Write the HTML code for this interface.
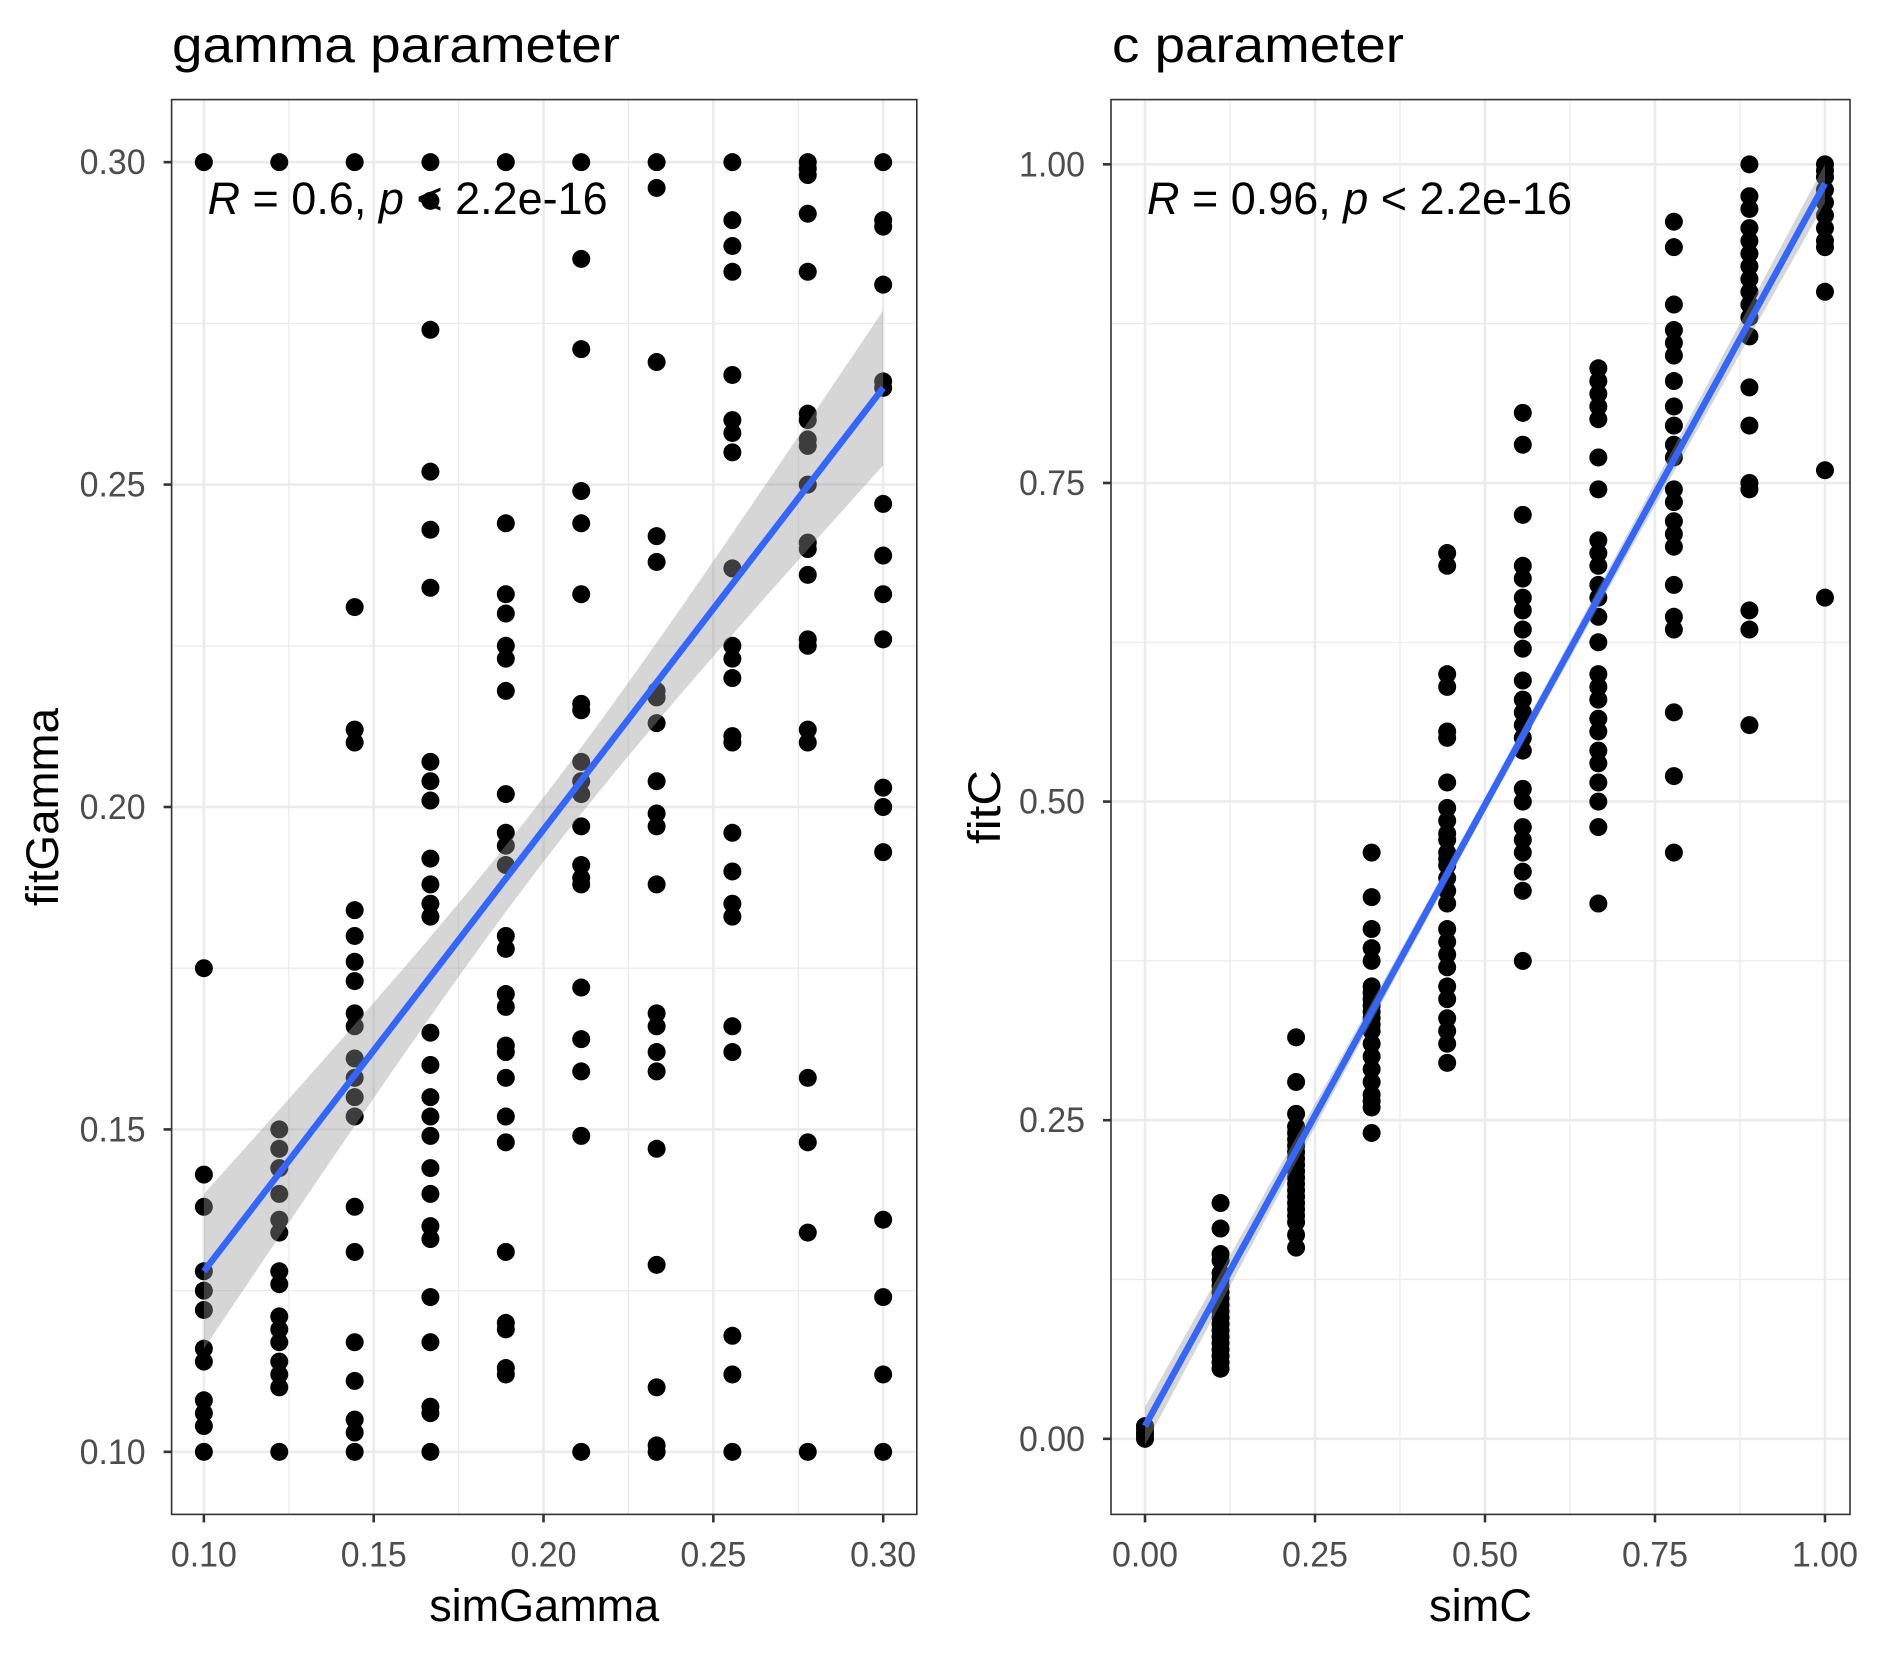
<!DOCTYPE html>
<html><head><meta charset="utf-8"><style>
html,body{margin:0;padding:0;background:#fff}
svg{display:block;font-family:"Liberation Sans",Arial,sans-serif}
</style></head><body>
<svg id="chart" width="1881" height="1653" viewBox="0 0 1881 1653" xmlns="http://www.w3.org/2000/svg">
<text x="172" y="62" font-size="50" textLength="448" lengthAdjust="spacingAndGlyphs" fill="#000">gamma parameter</text>
<text x="1112" y="62" font-size="50" textLength="292" lengthAdjust="spacingAndGlyphs" fill="#000">c parameter</text>
<g id="pg"></g>
<g id="pc"></g>
</svg>
<script>
const gammaCols=[0.1,0.1222,0.1444,0.1667,0.1889,0.2111,0.2333,0.2556,0.2778,0.3];
const gammaFit=[
[0.30,0.175,0.143,0.138,0.128,0.125,0.122,0.116,0.114,0.108,0.106,0.104,0.10],
[0.30,0.150,0.147,0.144,0.140,0.136,0.134,0.128,0.126,0.121,0.119,0.117,0.114,0.112,0.110,0.100],
[0.30,0.231,0.212,0.210,0.184,0.180,0.176,0.173,0.168,0.166,0.161,0.158,0.155,0.152,0.138,0.131,0.117,0.111,0.105,0.103,0.100],
[0.30,0.294,0.274,0.252,0.243,0.234,0.207,0.204,0.201,0.192,0.188,0.185,0.183,0.165,0.160,0.155,0.152,0.149,0.144,0.140,0.135,0.133,0.124,0.117,0.107,0.106,0.100],
[0.30,0.244,0.233,0.230,0.225,0.223,0.218,0.202,0.196,0.194,0.191,0.180,0.178,0.171,0.169,0.163,0.162,0.158,0.152,0.148,0.131,0.120,0.119,0.113,0.112],
[0.30,0.285,0.271,0.249,0.244,0.233,0.216,0.215,0.207,0.204,0.202,0.197,0.191,0.189,0.188,0.172,0.164,0.159,0.149,0.100],
[0.30,0.296,0.269,0.242,0.238,0.218,0.217,0.213,0.204,0.199,0.197,0.188,0.168,0.166,0.162,0.159,0.147,0.129,0.110,0.101,0.100],
[0.30,0.291,0.287,0.283,0.267,0.260,0.258,0.255,0.237,0.225,0.223,0.220,0.211,0.210,0.196,0.190,0.185,0.183,0.166,0.162,0.118,0.112,0.100],
[0.30,0.299,0.298,0.292,0.283,0.261,0.260,0.257,0.256,0.250,0.241,0.240,0.236,0.226,0.225,0.212,0.210,0.158,0.148,0.134,0.100],
[0.30,0.291,0.290,0.281,0.266,0.265,0.247,0.239,0.233,0.226,0.203,0.200,0.193,0.136,0.124,0.112,0.100]];
const gammaLine=[0.128,0.265];
const gammaBand=[0.005,0.0119];
const gammaTicks=["0.10","0.15","0.20","0.25","0.30"];
const cCols=[0,0.1111,0.2222,0.3333,0.4444,0.5556,0.6667,0.7778,0.8889,1.0];
const cFit=[
[0.0,0.003,0.005,0.008,0.01],
[0.185,0.165,0.145,0.14,0.13,0.125,0.12,0.115,0.11,0.105,0.10,0.095,0.09,0.085,0.08,0.075,0.07,0.065,0.06,0.055],
[0.315,0.28,0.255,0.245,0.24,0.235,0.23,0.225,0.22,0.215,0.21,0.205,0.2,0.195,0.19,0.185,0.18,0.175,0.17,0.16,0.15],
[0.46,0.425,0.40,0.385,0.375,0.355,0.35,0.345,0.34,0.335,0.33,0.325,0.32,0.31,0.30,0.29,0.28,0.27,0.265,0.26,0.24],
[0.695,0.685,0.6,0.59,0.555,0.55,0.515,0.495,0.485,0.475,0.47,0.46,0.455,0.45,0.44,0.43,0.42,0.40,0.39,0.38,0.37,0.355,0.345,0.33,0.32,0.31,0.295],
[0.805,0.78,0.725,0.685,0.675,0.66,0.65,0.635,0.62,0.595,0.58,0.57,0.56,0.55,0.54,0.51,0.5,0.48,0.47,0.46,0.445,0.43,0.375],
[0.84,0.83,0.82,0.81,0.80,0.77,0.745,0.705,0.695,0.685,0.67,0.66,0.645,0.625,0.6,0.59,0.58,0.565,0.555,0.54,0.53,0.515,0.5,0.48,0.42],
[0.955,0.935,0.89,0.87,0.86,0.85,0.83,0.81,0.795,0.78,0.77,0.745,0.735,0.72,0.71,0.7,0.67,0.645,0.635,0.57,0.52,0.46],
[1.0,0.975,0.965,0.95,0.94,0.93,0.92,0.91,0.9,0.89,0.88,0.865,0.825,0.795,0.75,0.745,0.65,0.635,0.56],
[1.0,0.995,0.99,0.98,0.97,0.96,0.95,0.94,0.935,0.9,0.76,0.66]];
const cLine=[0.01,0.985];
const cBand=[0.006,0.00076];
const cTicks=["0.00","0.25","0.50","0.75","1.00"];

const NS="http://www.w3.org/2000/svg";
function mk(parent,tag,attrs,text){const e=document.createElementNS(NS,tag);for(const k in attrs)e.setAttribute(k,attrs[k]);if(text!==undefined)e.textContent=text;parent.appendChild(e);return e;}

function panel(g,cfg){
  const {L,R,T,B,xmin,xmax,ymin,ymax,cols,fit,line,band,ticks,xt,yt,rLabel,ytx,rLen,xtLen,ytLen}=cfg;
  const sx=v=>L+(v-xmin)/(xmax-xmin)*(R-L);
  const sy=v=>B-(v-ymin)/(ymax-ymin)*(B-T);
  const tv=ticks.map(Number);const step=tv[1]-tv[0];
  for(let i=0;i<tv.length-1;i++){const m=tv[i]+step/2;
    const a=mk(g,'line',{x1:sx(m),x2:sx(m),y1:T,y2:B,stroke:'#ebebeb','stroke-width':1.3});
    
    
    const b=mk(g,'line',{x1:L,x2:R,y1:sy(m),y2:sy(m),stroke:'#ebebeb','stroke-width':1.3});
    
    }
  tv.forEach((v,i)=>{
    const a=mk(g,'line',{x1:sx(v),x2:sx(v),y1:T,y2:B,stroke:'#ebebeb','stroke-width':2.6});
    
    
    const b=mk(g,'line',{x1:L,x2:R,y1:sy(v),y2:sy(v),stroke:'#ebebeb','stroke-width':2.6});
    
    
    const t1=mk(g,'line',{x1:sx(v),x2:sx(v),y1:B,y2:B+8,stroke:'#333','stroke-width':2.6});
    
    
    const t2=mk(g,'line',{x1:L-8,x2:L,y1:sy(v),y2:sy(v),stroke:'#333','stroke-width':2.6});
    
    
    const l1=mk(g,'text',{x:sx(v),y:B+52,'font-size':35,fill:'#4d4d4d','text-anchor':'middle',textLength:66,lengthAdjust:'spacingAndGlyphs'},ticks[i]);
    
    
    const l2=mk(g,'text',{x:L-92,y:sy(v)+12,'font-size':35,fill:'#4d4d4d',textLength:66,lengthAdjust:'spacingAndGlyphs'},ticks[i]);
    
    
  });
  cols.forEach((cx,ci)=>fit[ci].forEach(v=>{
    const p=mk(g,'circle',{cx:sx(cx),cy:sy(v),r:9,fill:'#000'});
    
    
  }));
  const x0=cols[0],x1=cols[cols.length-1],xm=(x0+x1)/2;
  const yf=x=>line[0]+(x-x0)/(x1-x0)*(line[1]-line[0]);
  const hw=x=>Math.sqrt(band[0]*band[0]+band[1]*(x-xm)*(x-xm));
  let up=[],lo=[];
  for(let i=0;i<=40;i++){const x=x0+(x1-x0)*i/40;up.push(sx(x)+','+sy(yf(x)+hw(x)));lo.unshift(sx(x)+','+sy(yf(x)-hw(x)));}
  const bd=mk(g,'polygon',{points:up.concat(lo).join(' '),fill:'#999','fill-opacity':0.4});
  
  
  const ln=mk(g,'line',{x1:sx(x0),y1:sy(yf(x0)),x2:sx(x1),y2:sy(yf(x1)),stroke:'#3366ff','stroke-width':6.5});
  
  
  const rt=mk(g,'text',{x:L+36,y:214,'font-size':45,fill:'#000',textLength:rLen,lengthAdjust:'spacingAndGlyphs'});
  rt.innerHTML='<tspan font-style="italic">R</tspan> = '+rLabel+', <tspan font-style="italic">p</tspan> &lt; 2.2e-16';
  
  
  const bx=mk(g,'rect',{x:L,y:T,width:R-L,height:B-T,fill:'none',stroke:'#333','stroke-width':1.6});
  
  
  const xa=mk(g,'text',{x:(L+R)/2,y:1621,'font-size':45,fill:'#000','text-anchor':'middle',textLength:xtLen,lengthAdjust:'spacingAndGlyphs'},xt);
  
  
  const ya=mk(g,'text',{x:ytx,y:(T+B)/2,'font-size':45,fill:'#000','text-anchor':'middle',textLength:ytLen,lengthAdjust:'spacingAndGlyphs',transform:'rotate(-90 '+ytx+' '+(T+B)/2+')'},yt);
  
  
}
panel(document.getElementById('pg'),{L:171.6,R:916.8,T:99.6,B:1514.4,xmin:0.0905,xmax:0.3099,ymin:0.0903,ymax:0.3097,
  cols:gammaCols,fit:gammaFit,line:gammaLine,band:gammaBand,ticks:gammaTicks,xt:'simGamma',yt:'fitGamma',rLabel:'0.6',ytx:58,rLen:400,xtLen:230,ytLen:198});
panel(document.getElementById('pc'),{L:1111,R:1850,T:99.6,B:1514.4,xmin:-0.05,xmax:1.0368,ymin:-0.0593,ymax:1.0508,
  cols:cCols,fit:cFit,line:cLine,band:cBand,ticks:cTicks,xt:'simC',yt:'fitC',rLabel:'0.96',ytx:1000,rLen:425,xtLen:103,ytLen:74});
</script>
</body></html>
